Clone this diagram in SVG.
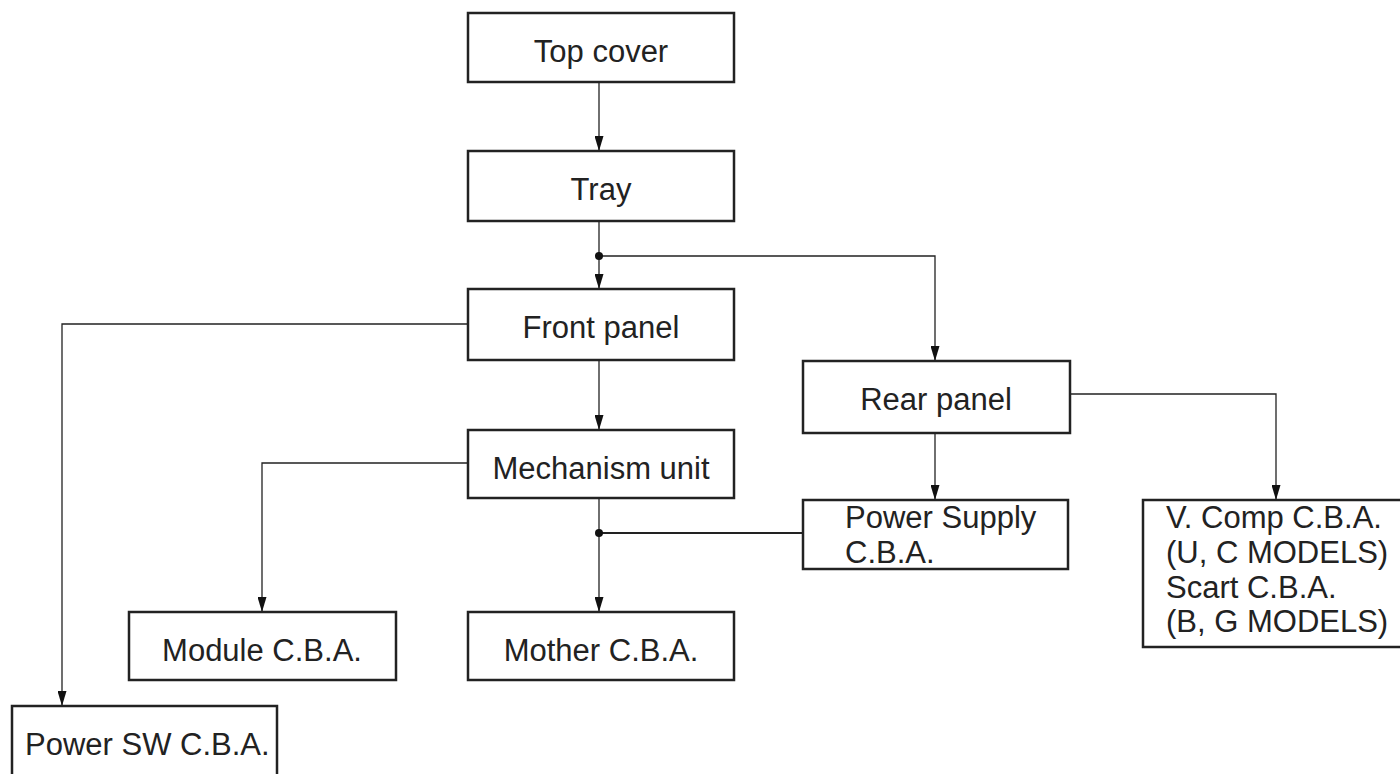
<svg xmlns="http://www.w3.org/2000/svg" width="1400" height="774" viewBox="0 0 1400 774">
<style>
.box{fill:#fff;stroke:#222;stroke-width:2.5}
.t{font-family:"Liberation Sans",Arial,sans-serif;font-size:31px;fill:#222}
.c{text-anchor:middle}
.ln{fill:none;stroke:#222;stroke-width:1.3}
.thick{fill:none;stroke:#222;stroke-width:2.2}
</style>
<defs>
<marker id="ah" markerUnits="userSpaceOnUse" markerWidth="15" markerHeight="9" refX="15" refY="4.5" orient="auto" viewBox="0 0 15 9">
<path d="M0,0 L15,4.5 L0,9 z" fill="#111"/>
</marker>
</defs>
<g id="connectors">
<path class="ln" d="M599,82 V151" marker-end="url(#ah)"/>
<path class="ln" d="M599,221 V289" marker-end="url(#ah)"/>
<path class="ln" d="M599,256 H935 V361" marker-end="url(#ah)"/>
<path class="ln" d="M467,324 H62 V706" marker-end="url(#ah)"/>
<path class="ln" d="M599,360 V430" marker-end="url(#ah)"/>
<path class="ln" d="M467,463 H262 V612" marker-end="url(#ah)"/>
<path class="ln" d="M599,498 V612" marker-end="url(#ah)"/>
<path class="thick" d="M599,533 H803"/>
<path class="ln" d="M935,433 V500" marker-end="url(#ah)"/>
<path class="ln" d="M1070,394 H1276 V500" marker-end="url(#ah)"/>
<circle cx="599" cy="256" r="4" fill="#111"/>
<circle cx="599" cy="533" r="4" fill="#111"/>
</g>
<g id="top-cover"><rect class="box" x="468" y="13" width="266" height="69"/><text class="t c" x="601" y="62">Top cover</text></g>
<g id="tray"><rect class="box" x="468" y="151" width="266" height="70"/><text class="t c" x="601" y="200">Tray</text></g>
<g id="front-panel"><rect class="box" x="468" y="289" width="266" height="71"/><text class="t c" x="601" y="338">Front panel</text></g>
<g id="rear-panel"><rect class="box" x="803" y="361" width="267" height="72"/><text class="t c" x="936" y="410">Rear panel</text></g>
<g id="mechanism-unit"><rect class="box" x="468" y="430" width="266" height="68"/><text class="t c" x="601" y="479">Mechanism unit</text></g>
<g id="module-cba"><rect class="box" x="129" y="612" width="267" height="68"/><text class="t c" x="262" y="661">Module C.B.A.</text></g>
<g id="mother-cba"><rect class="box" x="468" y="612" width="266" height="68"/><text class="t c" x="601" y="661">Mother C.B.A.</text></g>
<g id="power-supply-cba"><rect class="box" x="803" y="500" width="265" height="69"/><text class="t" x="845" y="528">Power Supply</text><text class="t" x="845" y="563">C.B.A.</text></g>
<g id="vcomp-scart-cba"><rect class="box" x="1143" y="500" width="270" height="147"/><text class="t" x="1166" y="528">V. Comp C.B.A.</text><text class="t" x="1166" y="563">(U, C MODELS)</text><text class="t" x="1166" y="598">Scart C.B.A.</text><text class="t" x="1166" y="632">(B, G MODELS)</text></g>
<g id="power-sw-cba"><rect class="box" x="12" y="706" width="265" height="80"/><text class="t" x="25" y="755">Power SW C.B.A.</text></g>
</svg>
